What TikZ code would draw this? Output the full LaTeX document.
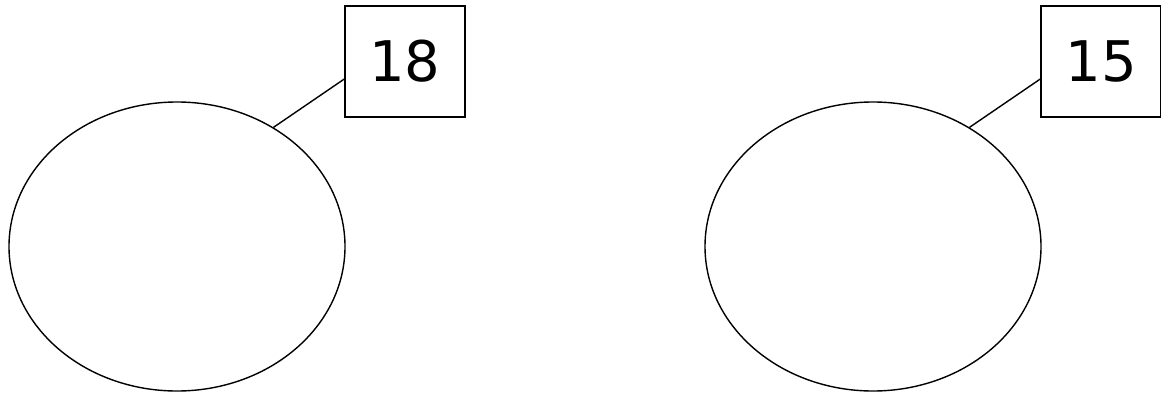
\documentclass[tikz,border=0pt]{standalone}
\usepackage{fontspec}
\setmainfont{DejaVu Sans}
\usetikzlibrary{shapes.geometric,calc}
\begin{document}
\begin{tikzpicture}[x=1pt,y=-1pt,
  oval/.style={draw,ellipse,line width=1.4pt,minimum width=336pt,minimum height=289pt,inner sep=0pt},
  numbox/.style={draw,rectangle,line width=1.4pt,minimum width=120pt,minimum height=111pt,inner sep=0pt,font=\fontsize{56}{60}\selectfont},
  link/.style={line width=1.4pt}]
\useasboundingbox (0,0) rectangle (1161,394);
\node[oval] (e1) at (177,246.5) {};
\node[oval] (e2) at (873,246.5) {};
\node[numbox] (b1) at (405,61.5) {18};
\node[numbox] (b2) at (1101,61.5) {15};
\draw[link] ($(b1.west)+(0,17.5)$) -- (e1.51.5);
\draw[link] ($(b2.west)+(0,17.5)$) -- (e2.51.5);
\end{tikzpicture}
\end{document}
